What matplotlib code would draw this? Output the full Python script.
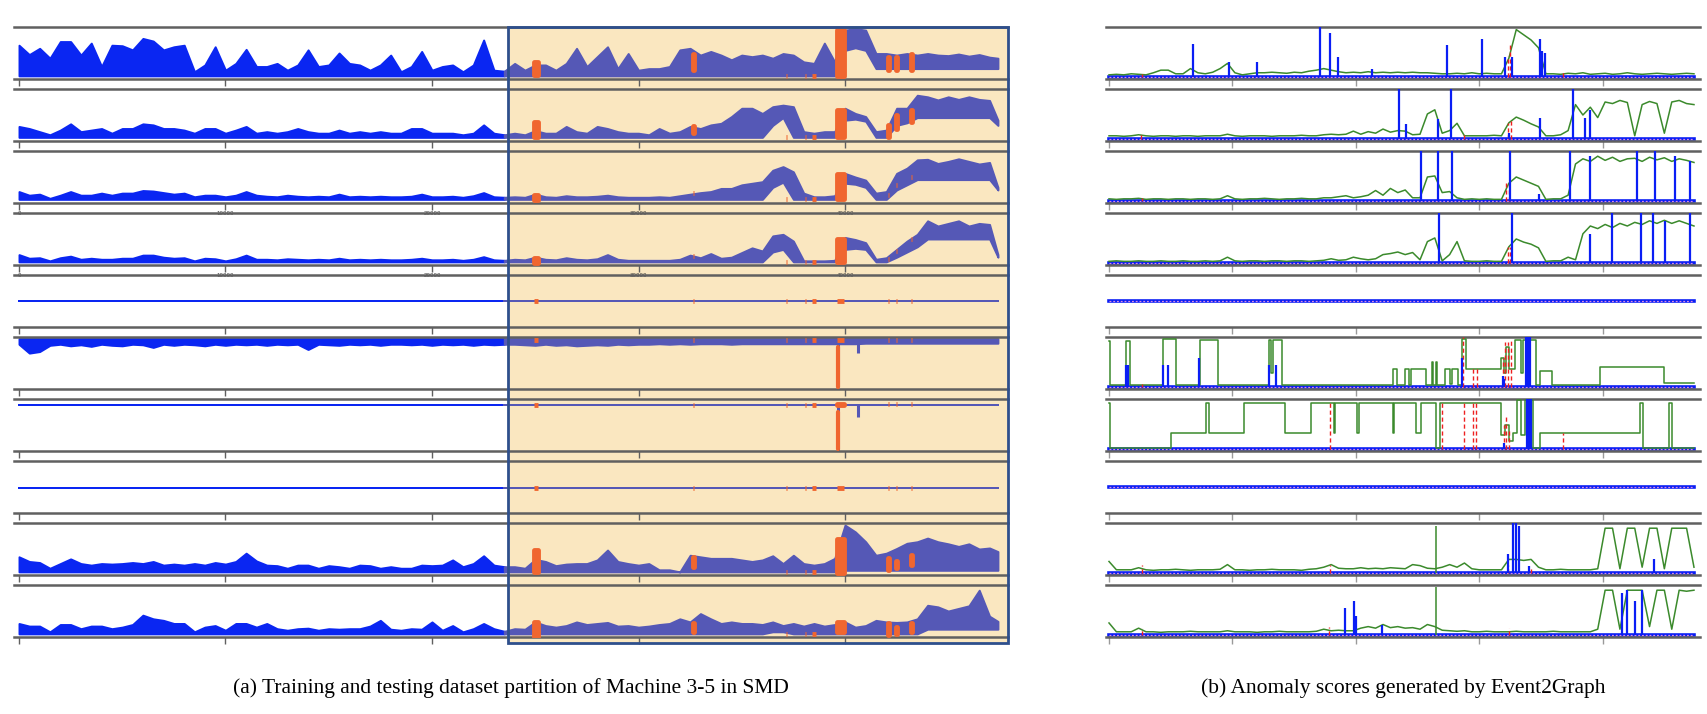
import numpy as np

import matplotlib
matplotlib.use('Agg')
from matplotlib import pyplot as plt
from matplotlib.patches import Rectangle

W, H = 1708, 714

N_TOTAL = 47406
N_TRAIN = 23703
N_TEST = N_TOTAL - N_TRAIN

TRAIN_BLUE = '#0a26f2'
TEST_BLUE = '#5558b6'
ANOM_ORANGE = '#f0662f'
SHADE = '#fae7c0'
BOX = '#2e4f8c'
SPINE = '#606060'
SCORE_GREEN = '#3b8a2c'
SCORE_BLUE = '#0a1ef5'
LABEL_RED = '#ee2020'

# ---- (a) metric envelopes, one value every 500 samples (last one = end of data)
S1_UP = [0.65,0.47,0.59,0.40,0.72,0.72,0.46,0.69,0.24,0.65,
         0.64,0.56,0.78,0.73,0.56,0.62,0.65,0.14,0.27,0.62,
         0.17,0.30,0.57,0.24,0.24,0.30,0.17,0.27,0.56,0.24,
         0.27,0.50,0.30,0.27,0.17,0.27,0.46,0.14,0.24,0.53,
         0.17,0.24,0.27,0.14,0.27,0.75,0.17,0.15,
         0.30,0.17,0.27,0.27,0.17,0.30,0.59,0.24,0.43,0.62,
         0.20,0.49,0.17,0.20,0.20,0.24,0.56,0.59,0.46,0.53,
         0.46,0.37,0.46,0.43,0.46,0.40,0.49,0.46,0.33,0.30,
         0.69,0.33,0.94,0.97,0.94,0.49,0.49,0.46,0.49,0.46,
         0.49,0.46,0.45,0.48,0.44,0.47,0.42,0.40]
S1_LO = [0.06]*80 + [0.55, 0.60, 0.55] + [0.20]*13

S2_UP = [0.28,0.24,0.18,0.12,0.21,0.33,0.18,0.21,0.24,0.15,
         0.24,0.24,0.33,0.31,0.24,0.24,0.21,0.15,0.24,0.24,
         0.15,0.21,0.28,0.15,0.18,0.15,0.18,0.24,0.18,0.15,
         0.15,0.21,0.15,0.18,0.15,0.18,0.15,0.15,0.24,0.24,
         0.15,0.15,0.15,0.12,0.15,0.31,0.15,0.12,
         0.15,0.12,0.20,0.15,0.15,0.28,0.18,0.15,0.28,0.24,
         0.18,0.15,0.15,0.12,0.24,0.15,0.18,0.28,0.24,0.31,
         0.34,0.47,0.63,0.63,0.53,0.66,0.69,0.66,0.18,0.15,
         0.18,0.18,0.63,0.53,0.47,0.18,0.21,0.63,0.63,0.88,
         0.85,0.79,0.85,0.80,0.85,0.80,0.78,0.40]
S2_LO = [0.07]*73 + [0.30, 0.45] + [0.07]*5 + [0.40, 0.42, 0.38] + [0.07]*2 + [0.30, 0.35] + [0.45]*8 + [0.30]

S3_UP = [0.22,0.15,0.17,0.09,0.15,0.22,0.15,0.15,0.19,0.15,
         0.19,0.19,0.24,0.23,0.20,0.17,0.19,0.12,0.15,0.15,
         0.12,0.15,0.22,0.15,0.13,0.12,0.15,0.13,0.12,0.13,
         0.12,0.17,0.12,0.13,0.12,0.13,0.12,0.12,0.13,0.17,
         0.12,0.12,0.13,0.11,0.14,0.20,0.12,0.11,
         0.12,0.11,0.17,0.12,0.11,0.14,0.12,0.12,0.13,0.15,
         0.12,0.11,0.11,0.11,0.12,0.11,0.14,0.17,0.20,0.22,
         0.28,0.28,0.35,0.38,0.41,0.63,0.70,0.60,0.19,0.12,
         0.12,0.14,0.57,0.50,0.44,0.19,0.22,0.57,0.67,0.83,
         0.84,0.76,0.80,0.85,0.80,0.75,0.78,0.30]
S3_LO = [0.07]*73 + [0.30, 0.40] + [0.07]*5 + [0.38, 0.36, 0.30] + [0.07]*2 + [0.25, 0.35] + [0.45]*8 + [0.25]

S4_UP = [0.20,0.13,0.14,0.08,0.14,0.17,0.11,0.13,0.11,0.11,
         0.13,0.13,0.19,0.19,0.15,0.13,0.14,0.08,0.13,0.12,
         0.08,0.12,0.19,0.11,0.11,0.10,0.12,0.11,0.10,0.11,
         0.10,0.13,0.10,0.11,0.10,0.11,0.10,0.10,0.11,0.13,
         0.10,0.10,0.11,0.09,0.11,0.16,0.10,0.09,
         0.11,0.10,0.15,0.11,0.10,0.14,0.11,0.10,0.12,0.20,
         0.11,0.09,0.09,0.09,0.09,0.09,0.11,0.19,0.14,0.22,
         0.13,0.15,0.24,0.33,0.27,0.56,0.59,0.46,0.08,0.08,
         0.08,0.09,0.53,0.49,0.43,0.11,0.14,0.30,0.46,0.59,
         0.85,0.75,0.80,0.85,0.75,0.80,0.78,0.20]
S4_LO = [0.06]*73 + [0.25, 0.30] + [0.06]*5 + [0.30, 0.32, 0.30] + [0.06]*2 + [0.15, 0.25, 0.35] + [0.50]*7 + [0.15]

S5_UP = [0.50]*96
S5_LO = [0.50]*96

S6_UP = [0.97]*96
S6_LO = [0.86,0.69,0.72,0.84,0.86,0.83,0.85,0.82,0.86,0.84,
         0.83,0.86,0.85,0.80,0.86,0.84,0.86,0.85,0.83,0.86,
         0.84,0.86,0.85,0.86,0.84,0.86,0.85,0.86,0.76,0.86,
         0.85,0.84,0.86,0.85,0.86,0.84,0.86,0.86,0.85,0.86,
         0.84,0.86,0.85,0.86,0.84,0.86,0.85,0.86,
         0.86,0.85,0.84,0.86,0.84,0.85,0.83,0.84,0.85,0.84,
         0.86,0.85,0.86,0.86,0.87,0.86,0.87,0.86,0.87,0.87,
         0.87,0.86,0.87,0.87,0.87,0.87,0.87,0.87,0.87,0.87,
         0.87,0.87,0.87,0.87,0.88,0.88,0.88,0.88,0.88,0.88,
         0.88,0.88,0.88,0.88,0.88,0.88,0.88,0.88]

S7_UP = [0.88]*96
S7_LO = [0.88]*96

S8_UP = [0.49]*96
S8_LO = [0.49]*96

S9_UP = [0.35,0.26,0.24,0.13,0.22,0.31,0.22,0.19,0.22,0.21,
         0.22,0.24,0.22,0.26,0.19,0.21,0.19,0.22,0.19,0.24,
         0.21,0.26,0.42,0.27,0.19,0.18,0.13,0.19,0.19,0.13,
         0.18,0.16,0.13,0.19,0.18,0.13,0.16,0.13,0.13,0.19,
         0.18,0.19,0.29,0.16,0.22,0.37,0.19,0.16,
         0.16,0.13,0.30,0.26,0.18,0.21,0.22,0.22,0.29,0.48,
         0.26,0.22,0.19,0.22,0.10,0.10,0.06,0.38,0.35,0.32,
         0.32,0.32,0.29,0.26,0.29,0.37,0.22,0.38,0.22,0.19,
         0.22,0.32,0.96,0.83,0.64,0.38,0.42,0.51,0.61,0.64,
         0.71,0.64,0.60,0.55,0.60,0.50,0.52,0.45]
S9_LO = [0.06]*80 + [0.09]*16

S10_UP = [0.26,0.21,0.21,0.10,0.24,0.24,0.16,0.21,0.21,0.16,
          0.19,0.24,0.42,0.35,0.32,0.26,0.26,0.10,0.19,0.22,
          0.13,0.26,0.26,0.19,0.26,0.16,0.13,0.16,0.17,0.13,
          0.16,0.15,0.16,0.16,0.21,0.32,0.15,0.13,0.16,0.15,
          0.29,0.13,0.22,0.10,0.16,0.26,0.16,0.11,
          0.16,0.15,0.29,0.22,0.19,0.22,0.29,0.24,0.26,0.28,
          0.21,0.22,0.19,0.21,0.24,0.26,0.35,0.29,0.45,0.35,
          0.26,0.29,0.26,0.26,0.24,0.29,0.22,0.26,0.21,0.26,
          0.21,0.24,0.29,0.19,0.22,0.32,0.29,0.28,0.29,0.35,
          0.61,0.58,0.50,0.55,0.60,0.90,0.40,0.30]
S10_LO = [0.06]*73 + [0.10, 0.10] + [0.06]*13 + [0.15]*8

# sharp single-sample drops in metrics 6 and 7 (sample, value)
DIP6 = ([39660, 40630], [0.04, 0.69])
DIP7 = ([39660, 40630], [0.00, 0.65])
# labelled points lying on those drops (sample, low, high)
DIP6_ANOM = ([39660], [0.04], [0.80])
DIP7_ANOM = ([39660], [0.04], [0.75])

# labelled anomaly segments (sample ranges) and the value range they cover per metric
ANOM_START = [24950, 32620, 37160, 38060, 38400, 39600, 42070, 42470, 43200]
ANOM_END = [25150, 32680, 37190, 38090, 38600, 39950, 42130, 42530, 43260]
A1_LO = [0.08, 0.17, 0.06, 0.06, 0.06, 0.06, 0.17, 0.17, 0.17]
A1_HI = [0.33, 0.49, 0.06, 0.06, 0.06, 0.94, 0.43, 0.43, 0.49]
A2_LO = [0.08, 0.15, 0.07, 0.07, 0.07, 0.08, 0.08, 0.24, 0.37]
A2_HI = [0.37, 0.28, 0.07, 0.07, 0.07, 0.60, 0.31, 0.50, 0.60]
A3_LO = [0.06, 0.20, 0.08, 0.08, 0.08, 0.08, 0.15, 0.35, 0.50]
A3_HI = [0.15, 0.20, 0.08, 0.08, 0.08, 0.55, 0.15, 0.35, 0.50]
A4_LO = [0.04, 0.17, 0.06, 0.06, 0.06, 0.05, 0.11, 0.26, 0.50]
A4_HI = [0.14, 0.17, 0.06, 0.06, 0.06, 0.50, 0.11, 0.26, 0.50]
A5_LO = [0.50]*9
A5_HI = [0.50]*9
A6_LO = [0.94]*9
A6_HI = [0.94]*9
A7_LO = [0.88, 0.88, 0.88, 0.88, 0.88, 0.88, 0.90, 0.90, 0.90]
A7_HI = [0.88, 0.88, 0.88, 0.88, 0.88, 0.90, 0.90, 0.90, 0.90]
A8_LO = [0.49]*9
A8_HI = [0.49]*9
A9_LO = [0.05, 0.16, 0.05, 0.05, 0.05, 0.03, 0.10, 0.13, 0.19]
A9_HI = [0.48, 0.35, 0.05, 0.05, 0.05, 0.70, 0.32, 0.26, 0.38]
A10_LO = [0.00, 0.10, 0.06, 0.06, 0.06, 0.10, 0.03, 0.06, 0.10]
A10_HI = [0.29, 0.26, 0.06, 0.06, 0.06, 0.29, 0.26, 0.20, 0.26]

# ---- (b) anomaly scores on the test part, one value every ~300 samples
G1 = [0.08,0.09,0.08,0.10,0.09,0.08,0.12,0.17,0.17,0.10,
      0.10,0.20,0.12,0.10,0.13,0.20,0.30,0.12,0.08,0.10,
      0.12,0.12,0.13,0.12,0.11,0.13,0.12,0.15,0.17,0.20,
      0.17,0.14,0.12,0.13,0.12,0.14,0.12,0.13,0.12,0.13,
      0.12,0.13,0.12,0.12,0.11,0.10,0.10,0.11,0.10,0.12,
      0.10,0.11,0.10,0.10,0.40,0.95,0.85,0.75,0.60,0.10,
      0.10,0.09,0.11,0.10,0.12,0.09,0.10,0.11,0.09,0.10,
      0.12,0.10,0.09,0.10,0.11,0.10,0.09,0.10,0.11,0.10]
G2 = [0.10,0.10,0.09,0.10,0.12,0.10,0.09,0.10,0.10,0.09,
      0.10,0.10,0.09,0.10,0.10,0.10,0.13,0.10,0.09,0.10,
      0.10,0.10,0.09,0.10,0.10,0.10,0.11,0.10,0.10,0.12,
      0.13,0.12,0.13,0.19,0.13,0.18,0.15,0.23,0.17,0.20,
      0.19,0.12,0.13,0.52,0.60,0.15,0.20,0.34,0.10,0.10,
      0.10,0.10,0.11,0.10,0.35,0.46,0.40,0.33,0.27,0.10,
      0.10,0.12,0.20,0.70,0.50,0.65,0.45,0.75,0.72,0.78,
      0.74,0.10,0.70,0.76,0.72,0.15,0.75,0.78,0.72,0.70]
G3 = [0.08,0.07,0.08,0.08,0.09,0.07,0.08,0.08,0.07,0.08,
      0.08,0.07,0.08,0.08,0.07,0.08,0.14,0.08,0.07,0.08,
      0.08,0.09,0.08,0.07,0.08,0.08,0.09,0.08,0.08,0.10,
      0.10,0.12,0.14,0.10,0.12,0.15,0.24,0.15,0.28,0.20,
      0.25,0.10,0.10,0.50,0.52,0.20,0.22,0.10,0.07,0.08,
      0.07,0.08,0.07,0.07,0.38,0.50,0.44,0.38,0.32,0.07,
      0.08,0.08,0.15,0.75,0.85,0.80,0.90,0.82,0.88,0.80,
      0.85,0.86,0.80,0.88,0.83,0.87,0.80,0.85,0.82,0.78]
G4 = [0.07,0.08,0.07,0.07,0.08,0.07,0.07,0.08,0.07,0.07,
      0.08,0.07,0.07,0.08,0.07,0.08,0.15,0.08,0.07,0.08,
      0.08,0.07,0.08,0.08,0.07,0.08,0.08,0.07,0.08,0.09,
      0.12,0.09,0.10,0.15,0.12,0.10,0.12,0.20,0.22,0.25,
      0.20,0.24,0.10,0.45,0.52,0.08,0.20,0.45,0.08,0.07,
      0.07,0.08,0.07,0.07,0.35,0.50,0.44,0.40,0.33,0.07,
      0.08,0.08,0.15,0.10,0.60,0.75,0.70,0.78,0.72,0.80,
      0.75,0.82,0.78,0.85,0.80,0.86,0.80,0.85,0.80,0.75]
G9 = [0.26,0.10,0.10,0.10,0.14,0.10,0.09,0.10,0.10,0.11,
      0.10,0.09,0.10,0.10,0.10,0.11,0.20,0.10,0.10,0.09,
      0.10,0.10,0.11,0.10,0.10,0.10,0.09,0.11,0.12,0.15,
      0.20,0.13,0.12,0.12,0.14,0.12,0.13,0.12,0.14,0.13,
      0.12,0.20,0.18,0.13,0.12,0.15,0.20,0.15,0.23,0.12,
      0.10,0.10,0.10,0.10,0.30,0.30,0.28,0.30,0.15,0.10,
      0.10,0.11,0.10,0.10,0.10,0.10,0.12,0.90,0.90,0.12,
      0.90,0.90,0.15,0.90,0.90,0.12,0.90,0.90,0.90,0.15]
G10 = [0.27,0.10,0.10,0.10,0.17,0.10,0.10,0.09,0.10,0.10,
       0.10,0.11,0.10,0.10,0.10,0.10,0.12,0.10,0.10,0.10,
       0.09,0.10,0.10,0.11,0.10,0.10,0.10,0.10,0.11,0.15,
       0.12,0.13,0.12,0.12,0.17,0.20,0.17,0.24,0.18,0.20,
       0.17,0.18,0.15,0.24,0.20,0.13,0.12,0.11,0.12,0.10,
       0.10,0.11,0.10,0.10,0.10,0.11,0.10,0.10,0.10,0.10,
       0.11,0.10,0.10,0.10,0.10,0.10,0.15,0.90,0.90,0.15,
       0.90,0.90,0.90,0.20,0.90,0.90,0.15,0.90,0.88,0.90]

# step-like scores (change points in samples, level from there on)
G6_X = [0, 60, 700, 850, 2180, 2730, 3680, 4420, 6480, 6580, 6650, 7000,
        11520, 11660, 12000, 12150, 12250, 12850, 13080, 13120, 13250, 13290,
        13620, 13800, 13900, 14150, 14290, 14450, 15900, 16000, 16100, 16200,
        16440, 16710, 16780, 17320, 17460, 17940, 19900, 22500, 23703]
G6_Y = [0.92, 0.08, 0.93, 0.08, 0.96, 0.08, 0.95, 0.08, 0.95, 0.30, 0.95, 0.08,
        0.38, 0.08, 0.38, 0.08, 0.38, 0.08, 0.52, 0.08, 0.52, 0.08,
        0.38, 0.10, 0.38, 0.08, 0.97, 0.38, 0.60, 0.30, 0.80, 0.38,
        0.95, 0.30, 0.95, 0.08, 0.34, 0.07, 0.42, 0.12, 0.12]
G7_X = [0, 60, 2500, 3950, 4050, 5450, 7140, 8170, 9100, 9170, 10060, 10120,
        11500, 11560, 12450, 12650, 13230, 13400, 15900, 16050, 16200, 16350,
        16550, 16700, 16850, 17200, 17460, 21500, 21650, 22700, 22800, 23703]
G7_Y = [0.92, 0.05, 0.35, 0.92, 0.35, 0.92, 0.35, 0.92, 0.35, 0.92, 0.35, 0.92,
        0.35, 0.92, 0.35, 0.92, 0.05, 0.92, 0.30, 0.50, 0.20, 0.35,
        0.98, 0.31, 0.98, 0.05, 0.35, 0.92, 0.05, 0.92, 0.05, 0.05]

# narrow green spikes (sample, height)
GS9 = ([13250], [0.95])
GS10 = ([13260], [0.96])

# blue score spikes (sample, height)
B1 = ([3390, 4860, 6000, 8540, 8960, 9280, 10660, 13700, 15130, 16030, 16330, 17460, 17560, 17650],
      [0.67, 0.33, 0.33, 1.00, 0.88, 0.42, 0.20, 0.66, 0.77, 0.42, 0.42, 0.77, 0.53, 0.50])
B2 = ([11750, 12050, 13330, 13870, 16220, 17450, 18800, 19300, 19500],
      [1.00, 0.33, 0.42, 1.00, 0.15, 0.45, 1.00, 0.45, 0.60])
B3 = ([12640, 13350, 13880, 16250, 17440, 18680, 19490, 21390, 22120, 22930, 23540],
      [1.00, 1.00, 1.00, 1.00, 0.17, 1.00, 0.90, 1.00, 1.00, 0.90, 0.80])
B4 = ([13360, 16320, 19490, 20380, 21560, 22030, 22530, 23540],
      [1.00, 1.00, 0.60, 1.00, 1.00, 1.00, 0.85, 1.00])
B6 = ([700, 780, 2180, 2400, 3640, 6480, 6750, 14290, 15950, 16000, 16900, 16950, 17000, 17050],
      [0.47, 0.47, 0.47, 0.47, 0.60, 0.47, 0.47, 0.59, 0.25, 0.20, 1.00, 1.00, 1.00, 1.00])
B7 = ([16000, 16950, 17000, 17050, 17100], [0.15, 1.00, 1.00, 1.00, 1.00])
B9 = ([16150, 16350, 16500, 16600, 17000, 22100], [0.40, 1.00, 1.00, 0.95, 0.17, 0.30])
B10 = ([9570, 9940, 10000, 11050, 20800, 21000, 21300, 21600],
       [0.56, 0.70, 0.40, 0.24, 0.85, 0.90, 0.70, 0.90])

# red dashed label marks (sample, height)
R1 = ([1330, 16150, 16250, 18410], [0.10, 0.45, 0.70, 0.14])
R2 = ([1280, 14390, 16150, 16280], [0.15, 0.16, 0.35, 0.42])
R3 = ([1330, 16100, 16200], [0.10, 0.38, 0.40])
R4 = ([16150, 16250], [0.35, 0.35])
R6 = ([1330, 14360, 14730, 14900, 15950, 16050, 16150, 16280],
      [0.10, 1.00, 0.40, 0.40, 0.60, 0.90, 0.90, 0.93])
R7 = ([8940, 13510, 14390, 14730, 14880, 16000, 16100, 16200, 18410],
      [0.92, 0.92, 0.92, 0.92, 0.92, 0.50, 0.70, 0.40, 0.35])
R9 = ([1330, 8940, 16150, 17100], [0.20, 0.20, 0.20, 0.12])
R10 = ([1330, 8900, 16200], [0.17, 0.20, 0.17])

RIGHT_BASE = [0.03, 0.03, 0.03, 0.03, 0.50, 0.03, 0.03, 0.50, 0.03, 0.03]

CAPTION_A = '(a) Training and testing dataset partition of Machine 3-5 in SMD'
CAPTION_B = '(b) Anomaly scores generated by Event2Graph'


def strip_rect(k, x0, x1):
    top = 27 + 62 * k
    return [x0 / W, 1 - (top + 52) / H, (x1 - x0) / W, 52 / H]


def style_strip(ax, xlim, ticks, tick_color):
    ax.set_xlim(*xlim)
    ax.set_ylim(0, 1)
    ax.set_xticks(ticks)
    ax.set_yticks([])
    ax.tick_params(axis='x', direction='out', length=5, width=1,
                   color=tick_color, labelbottom=False)
    for side in ('left', 'right'):
        ax.spines[side].set_visible(False)
    for side in ('top', 'bottom'):
        ax.spines[side].set_color(SPINE)
        ax.spines[side].set_linewidth(1.8)


fig = plt.figure(figsize=(W / 100, H / 100), dpi=100)

x_left = np.append(np.arange(95) * 500, N_TOTAL)
left_up = [S1_UP, S2_UP, S3_UP, S4_UP, S5_UP, S6_UP, S7_UP, S8_UP, S9_UP, S10_UP]
left_lo = [S1_LO, S2_LO, S3_LO, S4_LO, S5_LO, S6_LO, S7_LO, S8_LO, S9_LO, S10_LO]
anom_lo = [A1_LO, A2_LO, A3_LO, A4_LO, A5_LO, A6_LO, A7_LO, A8_LO, A9_LO, A10_LO]
anom_hi = [A1_HI, A2_HI, A3_HI, A4_HI, A5_HI, A6_HI, A7_HI, A8_HI, A9_HI, A10_HI]
dips = {5: (DIP6, DIP6_ANOM), 6: (DIP7, DIP7_ANOM)}
split = 48

left_axes = []
for k in range(10):
    ax = fig.add_axes(strip_rect(k, 14, 1008))
    ax.set_facecolor('none')
    up = np.array(left_up[k])
    lo = np.array(left_lo[k])
    ax.fill_between(x_left[:split], lo[:split], up[:split], facecolor=TRAIN_BLUE,
                    edgecolor=TRAIN_BLUE, lw=1.4, zorder=2)
    ax.fill_between(x_left[split - 1:], lo[split - 1:], up[split - 1:], facecolor=TEST_BLUE,
                    edgecolor=TEST_BLUE, lw=1.4, zorder=2)
    if k in dips:
        (dx, dy), (ox, olo, ohi) = dips[k]
        ax.vlines(dx, dy, [up[-1]] * len(dx), color=TEST_BLUE, lw=2.2, zorder=2)
        ax.vlines(ox, olo, ohi, color=ANOM_ORANGE, lw=3.0, capstyle='round', zorder=3)
    for s, e, a, b in zip(ANOM_START, ANOM_END, anom_lo[k], anom_hi[k]):
        ax.fill_between([s, e], [a, a], [b, b], facecolor=ANOM_ORANGE, edgecolor=ANOM_ORANGE,
                        lw=3.5, joinstyle='round', zorder=3)
    style_strip(ax, (-242, 47893), np.arange(0, 40001, 10000), SPINE)
    if k in (2, 3):
        ax.tick_params(axis='x', labelbottom=True, labelsize=4, labelcolor='#333333', pad=1)
    left_axes.append(ax)

# test-period shading and frame
inv = fig.transFigure.inverted()
ax_top, ax_bot = left_axes[0], left_axes[-1]
xs = inv.transform(ax_top.transData.transform((N_TRAIN, 0)))[0]
xe = ax_top.get_position().x1
ye = ax_top.get_position().y1
ys = ax_bot.get_position().y0 - 6 / H
fig.add_artist(Rectangle((xs, ys), xe - xs, ye - ys, transform=fig.transFigure,
                         facecolor=SHADE, edgecolor='none', zorder=-1))
fig.add_artist(Rectangle((xs, ys), xe - xs, ye - ys, transform=fig.transFigure,
                         fill=False, edgecolor=BOX, lw=2, zorder=10))

x_right = np.linspace(0, N_TEST, 80)
greens = {0: G1, 1: G2, 2: G3, 3: G4, 8: G9, 9: G10}
steps = {5: (G6_X, G6_Y), 6: (G7_X, G7_Y)}
green_spikes = {8: GS9, 9: GS10}
blues = {0: B1, 1: B2, 2: B3, 3: B4, 5: B6, 6: B7, 8: B9, 9: B10}
reds = {0: R1, 1: R2, 2: R3, 3: R4, 5: R6, 6: R7, 8: R9, 9: R10}

for k in range(10):
    ax = fig.add_axes(strip_rect(k, 1106, 1700))
    base = RIGHT_BASE[k]
    ax.plot([0, N_TEST], [base, base], color=SCORE_BLUE, lw=2.6, zorder=2)
    ax.plot([0, N_TEST], [base, base], color='#d98be0', lw=0.9, dashes=(1.5, 1.5), zorder=2.5)
    if k in greens:
        ax.plot(x_right, greens[k], color=SCORE_GREEN, lw=1.1, zorder=3)
    if k in steps:
        sx, sy = steps[k]
        ax.step(sx, sy, where='post', color=SCORE_GREEN, lw=1.1, zorder=3)
    if k in green_spikes:
        gx, gy = green_spikes[k]
        ax.vlines(gx, base, gy, color=SCORE_GREEN, lw=1.1, zorder=3)
    if k in reds:
        rx, ry = reds[k]
        ax.vlines(rx, base, ry, color=LABEL_RED, lw=1.0, linestyles=(0, (3, 2)), zorder=4)
    if k in blues:
        bx, by = blues[k]
        ax.vlines(bx, base, by, color=SCORE_BLUE, lw=1.6, zorder=5)
    style_strip(ax, (-122, 23947), np.arange(0, 20001, 5000), '#9a9a9a')

fig.text(((14 + 1008) / 2) / W, 1 - 688 / H, CAPTION_A, ha='center', va='center',
         family='Liberation Serif', fontsize=15.5)
fig.text(((1106 + 1700) / 2) / W, 1 - 688 / H, CAPTION_B, ha='center', va='center',
         family='Liberation Serif', fontsize=15.5)

fig.savefig('out.png', dpi=100)
